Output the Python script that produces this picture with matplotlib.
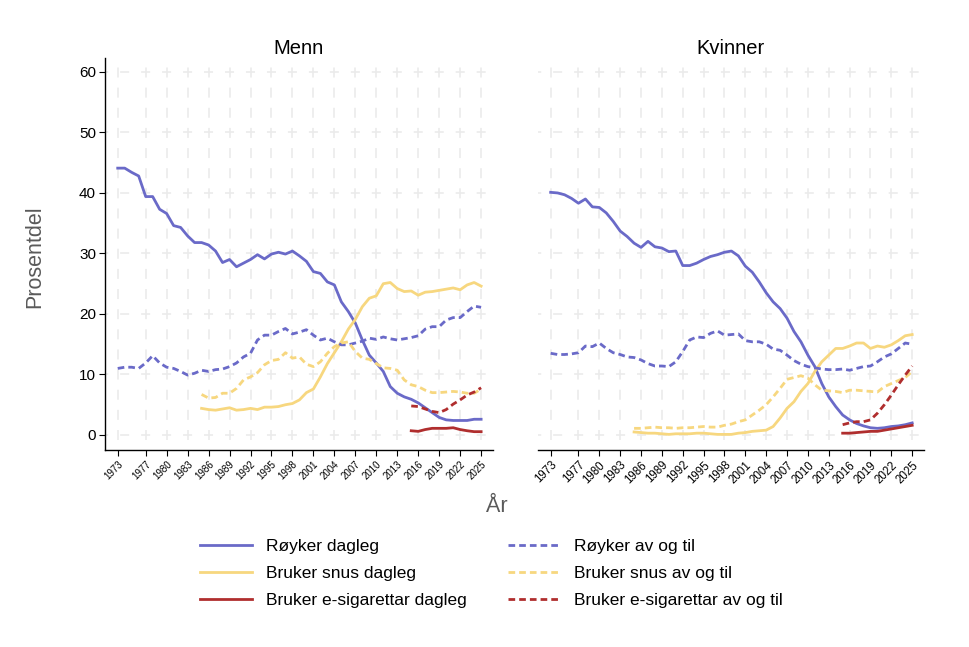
import matplotlib
matplotlib.use('Agg')
import matplotlib.pyplot as plt

plt.rcParams['font.family'] = ['Liberation Sans', 'DejaVu Sans']
plt.rcParams['lines.scale_dashes'] = False

# ---------------- data ----------------
years = list(range(1973, 2026))
years_snus = list(range(1985, 2026))
years_esig = list(range(2015, 2026))

xtick_years = [1973, 1977, 1980, 1983, 1986, 1989, 1992, 1995, 1998, 2001,
               2004, 2007, 2010, 2013, 2016, 2019, 2022, 2025]
ytick_vals = [0, 10, 20, 30, 40, 50, 60]

panel_titles = ['Menn', 'Kvinner']
series_labels = ['Røyker dagleg', 'Bruker snus dagleg', 'Bruker e-sigarettar dagleg',
                 'Røyker av og til', 'Bruker snus av og til', 'Bruker e-sigarettar av og til']

menn_royk_dagleg = [44.1, 44.1, 43.4, 42.8, 39.4, 39.4, 37.3, 36.6, 34.6, 34.3,
                    32.9, 31.8, 31.8, 31.4, 30.4, 28.5, 29.0, 27.8, 28.4, 29.0,
                    29.8, 29.1, 29.9, 30.2, 29.9, 30.4, 29.6, 28.7, 27.0, 26.7,
                    25.3, 24.8, 22.0, 20.4, 18.5, 15.7, 13.2, 11.9, 10.5, 8.0,
                    6.9, 6.3, 5.9, 5.3, 4.5, 3.7, 2.9, 2.5, 2.4, 2.4,
                    2.4, 2.6, 2.6]
menn_royk_avogtil = [11.0, 11.2, 11.2, 11.0, 11.9, 13.1, 11.9, 11.2, 11.0, 10.5,
                     9.9, 10.2, 10.7, 10.5, 10.8, 10.9, 11.3, 11.9, 12.9, 13.5,
                     15.7, 16.5, 16.5, 17.1, 17.6, 16.7, 17.0, 17.4, 16.5, 15.7,
                     16.0, 15.4, 14.9, 14.9, 15.2, 15.5, 16.0, 15.8, 16.2, 15.9,
                     15.7, 15.9, 16.1, 16.4, 17.5, 17.9, 17.9, 19.0, 19.4, 19.4,
                     20.4, 21.3, 21.1]
menn_snus_dagleg = [4.4, 4.2, 4.1, 4.3, 4.5, 4.1, 4.2, 4.4, 4.2, 4.6,
                    4.6, 4.7, 5.0, 5.2, 5.8, 7.0, 7.6, 9.6, 11.8, 13.6,
                    15.4, 17.5, 19.1, 21.2, 22.6, 23.0, 25.0, 25.2, 24.2, 23.7,
                    23.8, 23.1, 23.6, 23.7, 23.9, 24.1, 24.3, 24.0, 24.8, 25.2,
                    24.6]
menn_snus_avogtil = [6.7, 6.1, 6.2, 6.9, 6.9, 7.7, 9.1, 9.6, 10.3, 11.6,
                     12.3, 12.5, 13.6, 12.7, 12.9, 11.7, 11.3, 12.1, 13.5, 14.6,
                     15.2, 15.4, 13.8, 12.7, 12.5, 11.8, 11.1, 11.0, 10.7, 9.1,
                     8.3, 8.0, 7.4, 7.0, 7.0, 7.1, 7.2, 7.1, 6.9, 6.9,
                     7.6]
menn_esig_dagleg = [0.7, 0.6, 0.9, 1.1, 1.1, 1.1, 1.2, 0.9, 0.7, 0.55, 0.55]
menn_esig_avogtil = [4.8, 4.7, 4.3, 3.9, 3.7, 4.2, 5.1, 5.8, 6.6, 7.1, 7.8]

kvinner_royk_dagleg = [40.1, 40.0, 39.7, 39.1, 38.3, 39.0, 37.7, 37.6, 36.7, 35.3,
                       33.7, 32.8, 31.7, 31.0, 32.0, 31.1, 30.9, 30.3, 30.4, 28.0,
                       28.0, 28.4, 29.0, 29.5, 29.8, 30.2, 30.4, 29.6, 27.9, 26.9,
                       25.3, 23.5, 22.0, 20.9, 19.3, 17.1, 15.4, 13.2, 11.3, 8.5,
                       6.3, 4.7, 3.3, 2.5, 1.9, 1.5, 1.2, 1.1, 1.2, 1.4,
                       1.5, 1.7, 2.0]
kvinner_royk_avogtil = [13.5, 13.3, 13.3, 13.4, 13.6, 14.7, 14.6, 15.2, 14.3, 13.6,
                        13.3, 12.9, 12.8, 12.4, 11.8, 11.4, 11.4, 11.3, 12.1, 13.8,
                        15.7, 16.2, 16.1, 16.8, 17.2, 16.5, 16.6, 16.7, 15.6, 15.4,
                        15.4, 15.0, 14.2, 14.0, 13.2, 12.3, 11.7, 11.3, 11.1, 10.9,
                        10.8, 10.8, 10.9, 10.7, 11.0, 11.3, 11.4, 12.1, 12.9, 13.4,
                        14.3, 15.2, 15.0]
kvinner_snus_dagleg = [0.5, 0.4, 0.3, 0.3, 0.2, 0.1, 0.2, 0.2, 0.2, 0.3,
                       0.3, 0.2, 0.1, 0.1, 0.1, 0.3, 0.4, 0.6, 0.7, 0.8,
                       1.4, 2.8, 4.4, 5.5, 7.2, 8.5, 10.5, 12.1, 13.2, 14.3,
                       14.3, 14.7, 15.2, 15.2, 14.3, 14.7, 14.5, 14.9, 15.6, 16.4,
                       16.6]
kvinner_snus_avogtil = [1.1, 1.1, 1.2, 1.3, 1.2, 1.2, 1.1, 1.2, 1.2, 1.3,
                        1.4, 1.3, 1.3, 1.6, 1.8, 2.2, 2.5, 3.3, 4.1, 5.0,
                        6.3, 7.7, 9.2, 9.5, 9.8, 9.4, 8.3, 7.4, 7.3, 7.2,
                        7.0, 7.4, 7.4, 7.3, 7.2, 7.1, 8.0, 8.5, 9.0, 9.5,
                        10.5]
kvinner_esig_dagleg = [0.3, 0.3, 0.4, 0.5, 0.6, 0.6, 0.8, 1.0, 1.2, 1.4, 1.6]
kvinner_esig_avogtil = [1.7, 2.0, 2.2, 2.2, 2.5, 3.6, 5.0, 6.6, 8.3, 9.9, 11.4]

# ---------------- style ----------------
BLUE = '#6a6ac8'
YELLOW = '#f7d77f'
RED = '#b02e2e'
GRID = '#ebebeb'
LW = 2.0
DASH = (0, (4.8, 2.9))

fig = plt.figure(figsize=(9.7, 6.47), dpi=100)
W, H = 970.0, 647.0
bottom = 1 - 450 / H
height = 392 / H
axL = fig.add_axes([105 / W, bottom, 388 / W, height])
axR = fig.add_axes([538 / W, bottom, 386 / W, height])

panels = [
    (axL, menn_royk_dagleg, menn_snus_dagleg, menn_esig_dagleg,
     menn_royk_avogtil, menn_snus_avogtil, menn_esig_avogtil),
    (axR, kvinner_royk_dagleg, kvinner_snus_dagleg, kvinner_esig_dagleg,
     kvinner_royk_avogtil, kvinner_snus_avogtil, kvinner_esig_avogtil),
]

handles = None
for i, (ax, rd, sd, ed, ra, sa, ea) in enumerate(panels):
    h1, = ax.plot(years, rd, color=BLUE, lw=LW, solid_joinstyle='round')
    h2, = ax.plot(years_snus, sd, color=YELLOW, lw=LW, solid_joinstyle='round')
    h3, = ax.plot(years_esig, ed, color=RED, lw=LW, solid_joinstyle='round')
    h4, = ax.plot(years, ra, color=BLUE, lw=LW, linestyle=DASH)
    h5, = ax.plot(years_snus, sa, color=YELLOW, lw=LW, linestyle=DASH)
    h6, = ax.plot(years_esig, ea, color=RED, lw=LW, linestyle=DASH)
    if handles is None:
        handles = [h1, h2, h3, h4, h5, h6]

    ax.set_xlim(1971.18, 2026.7)
    ax.set_ylim(-2.48, 62.3)
    ax.set_xticks(xtick_years)
    ax.set_yticks(ytick_vals)
    ax.set_axisbelow(True)
    ax.xaxis.grid(True, color=GRID, linewidth=1.2, linestyle=(7.3, (7.2, 7.3)))
    ax.yaxis.grid(True, color=GRID, linewidth=1.2, linestyle=(4.2, (6.5, 8.6)))
    ax.spines['top'].set_visible(False)
    ax.spines['right'].set_visible(False)
    ax.spines['bottom'].set_linewidth(1.0)
    ax.spines['left'].set_linewidth(1.0)
    ax.tick_params(axis='x', length=4.5, width=0.8, color='black', pad=2)
    ax.set_title(panel_titles[i], fontsize=14.5, pad=3)
    fsize = 7.0 if i == 0 else 8.3
    ax.set_xticklabels([str(y) for y in xtick_years], rotation=45, ha='right',
                       va='top', rotation_mode='anchor', fontsize=fsize)
    if i == 0:
        ax.tick_params(axis='y', length=4.5, width=0.8, color='black', labelsize=11, pad=2)
    else:
        ax.spines['left'].set_visible(False)
        ax.tick_params(axis='y', left=False, labelleft=False)

fig.text(34.5 / W, 1 - 257 / H, 'Prosentdel', rotation=90, ha='center', va='center',
         fontsize=15.5, color='#5a5a5a')
fig.text(497 / W, 1 - 506 / H, 'År', ha='center', va='center',
         fontsize=15.5, color='#5a5a5a')

fig.legend(handles, series_labels, ncol=2, loc='center',
           bbox_to_anchor=(491.5 / W, 1 - 573.5 / H), frameon=False, fontsize=12.5,
           handlelength=3.0, handletextpad=0.8, columnspacing=2.36,
           labelspacing=0.68, borderpad=0)

fig.savefig('out.png', dpi=100, facecolor='white')
